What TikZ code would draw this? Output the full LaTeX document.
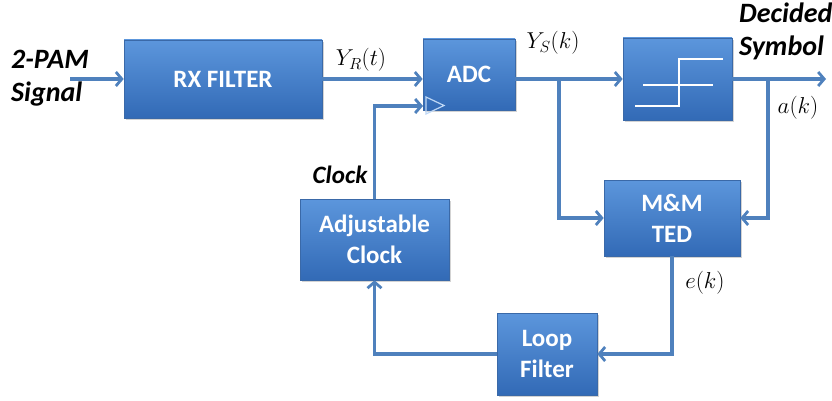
\RequirePackage{fix-cm}
\documentclass[tikz,border=0pt]{standalone}
\usepackage{fontspec}
\newfontfamily\calfont{Carlito}
\usetikzlibrary{arrows.meta,shadows,calc}
\definecolor{lineblue}{RGB}{79,129,189}
\definecolor{boxtop}{RGB}{92,150,220}
\definecolor{boxbot}{RGB}{50,106,182}
\definecolor{boxedge}{RGB}{58,105,168}
\definecolor{tri}{RGB}{190,215,245}
\tikzset{
  blk/.style={draw=boxedge, line width=0.6pt, top color=boxtop, bottom color=boxbot,
    drop shadow={shadow xshift=2pt, shadow yshift=-2pt, opacity=0.35},
    text=white, font=\calfont\bfseries\fontsize{25}{31}\selectfont, align=center,
    inner sep=0pt},
  conn/.style={draw=lineblue, line width=3.2pt},
  arr/.style={conn, -{Straight Barb[length=6pt,width=14pt,line width=2.8pt]}},
  lbl/.style={font=\calfont\bfseries\itshape\fontsize{28}{33}\selectfont, inner sep=0pt},
  mlbl/.style={font=\fontsize{23}{27}\selectfont, inner sep=0pt},
}
\begin{document}
\begin{tikzpicture}[x=1pt,y=-1pt]
\useasboundingbox (0,0) rectangle (832,401);
% blocks
\node[blk, minimum width=198pt, minimum height=78pt] (rx) at (223,79) {RX FILTER};
\node[blk, minimum width=92pt, minimum height=71pt] (adc) at (469,74.5) {ADC};
\node[blk, minimum width=109pt, minimum height=82pt] (dec) at (677.5,79) {};
\node[blk, minimum width=136pt, minimum height=76pt] (ted) at (672,218) {M\&M\\TED};
\node[blk, minimum width=149pt, minimum height=81pt] (adj) at (374.5,239.5) {Adjustable\\Clock};
\node[blk, minimum width=100pt, minimum height=82pt] (lf) at (547,354) {Loop\\Filter};
% decision symbol
\draw[white, line width=2.6pt] (635,106) -- (679,106) -- (679,59) -- (723,59);
\draw[white, line width=2.6pt] (643,85) -- (713,85);
% ADC clock triangle
\draw[tri, line width=1.2pt, line join=miter] (426,97) -- (444,105.5) -- (426,114) -- cycle;
% coordinates
\coordinate (in) at (70,79);
\coordinate (clk) at (423,106);
\coordinate (s1) at (559,79);
\coordinate (s2) at (768,79);
\coordinate (out) at (826,79);
% connectors
\draw[arr] (in) -- (rx.west);
\draw[arr] (rx.east) -- (adc.west |- rx.east);
\draw[arr] (adj.north) -- (adj.north |- clk) -- (clk);
\draw[arr] (adc.east |- dec.west) -- (dec.west);
\draw[arr] (s1) |- (ted.west);
\draw[arr] (dec.east) -- (out);
\draw[arr] (s2) |- (ted.east);
\draw[arr] (ted.south) |- (lf.east);
\draw[arr] (lf.west) -| (adj.south);
% labels
\node[lbl, anchor=west, align=left] (sig) at (11,78) {2-PAM\\Signal};
\node[lbl, anchor=west, align=left] (dsym) at (739,31) {Decided\\Symbol};
\node[lbl, font=\calfont\bfseries\itshape\fontsize{25}{30}\selectfont] (clab) at (340,175) {Clock};
\node[mlbl] (yr) at (361,60) {$Y_R(t)$};
\node[mlbl] (ys) at (553,43) {$Y_S(k)$};
\node[mlbl] (ak) at (798,108) {$a(k)$};
\node[mlbl] (ek) at (705,283) {$e(k)$};
\end{tikzpicture}
\end{document}
